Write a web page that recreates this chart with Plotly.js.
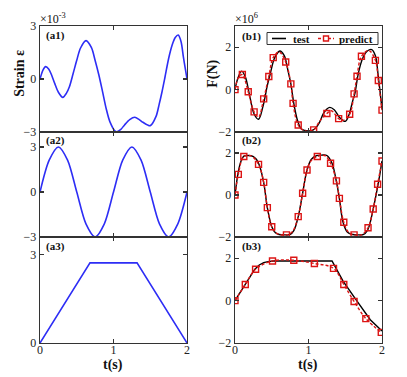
<!DOCTYPE html>
<html>
<head>
<meta charset="utf-8">
<script src="https://cdn.plot.ly/plotly-3.0.1.min.js"></script>
<style>body{margin:0;background:#fff;}</style>
</head>
<body>
<div id="chart" style="width:407px;height:377px;"></div>
<script>
// strain inputs (x10^-3)
var a1T = [0, 0.04, 0.077, 0.12, 0.16, 0.2, 0.25, 0.31, 0.36, 0.4, 0.45, 0.5, 0.55, 0.626, 0.7, 0.75, 0.8, 0.85, 0.9, 0.95, 1.03, 1.1, 1.15, 1.22, 1.29, 1.35, 1.4, 1.5, 1.58, 1.62, 1.66, 1.7, 1.75, 1.8, 1.84, 1.88, 1.92, 1.95, 1.98, 2.0];
var a1E = [0, 0.5, 0.7, 0.55, 0.2, -0.25, -0.75, -1.04, -0.8, -0.44, 0.3, 1.06, 1.74, 2.17, 1.77, 1.05, 0.24, -0.7, -1.67, -2.41, -2.98, -2.85, -2.6, -2.3, -2.17, -2.3, -2.45, -2.64, -2.1, -1.45, -0.72, 0.1, 1.16, 1.95, 2.35, 2.49, 2.1, 1.26, 0.5, 0];

var a2T = [0, 0.125, 0.25, 0.375, 0.5, 0.625, 0.75, 0.875, 1, 1.125, 1.25, 1.375, 1.5, 1.625, 1.75, 1.875, 2];
var a2E = [0, 2.12, 3, 2.12, 0, -2.12, -3, -2.12, 0, 2.12, 3, 2.12, 0, -2.12, -3, -2.12, 0];

var a3T = [0, 0.68, 1.32, 2];
var a3E = [0, 2.72, 2.72, 0];

// force (x10^6 N) - test
var b1T = [0, 0.04, 0.09, 0.14, 0.2, 0.26, 0.32, 0.38, 0.44, 0.48, 0.54, 0.61, 0.67, 0.72, 0.76, 0.8, 0.85, 0.9, 0.95, 1.0, 1.05, 1.1, 1.15, 1.2, 1.25, 1.29, 1.35, 1.42, 1.5, 1.55, 1.6, 1.63, 1.68, 1.74, 1.8, 1.86, 1.91, 1.95, 2.0];
var b1F = [0, 0.55, 0.87, 0.6, -0.3, -1.15, -1.4, -0.8, 0.2, 0.75, 1.5, 1.82, 1.6, 0.9, 0.27, -0.65, -1.45, -1.85, -1.93, -1.95, -1.93, -1.8, -1.55, -1.15, -0.92, -0.84, -0.95, -1.3, -1.5, -1.2, -0.55, -0.2, 0.8, 1.5, 1.82, 1.89, 1.6, 0.6, -0.92];

var b2T = [0, 0.045, 0.08, 0.12, 0.18, 0.25, 0.29, 0.33, 0.39, 0.44, 0.5, 0.55, 0.6, 0.67, 0.75, 0.8, 0.86, 0.92, 0.98, 1.04, 1.11, 1.18, 1.25, 1.32, 1.38, 1.42, 1.47, 1.53, 1.6, 1.68, 1.75, 1.8, 1.83, 1.88, 1.95, 2.0];
var b2F = [0, 1.11, 1.6, 1.85, 1.88, 1.83, 1.7, 1.43, 0.6, -0.6, -1.51, -1.8, -1.88, -1.9, -1.88, -1.7, -1.03, 0.08, 1.19, 1.7, 1.87, 1.9, 1.88, 1.51, 0.63, -0.16, -1.3, -1.78, -1.88, -1.9, -1.88, -1.7, -1.43, -0.67, 0.56, 1.62];

var b3T = [0, 0.14, 0.27, 0.33, 0.39, 0.45, 0.52, 1.32, 1.47, 1.66, 1.84, 2.0];
var b3F = [0, 0.76, 1.48, 1.68, 1.79, 1.84, 1.87, 1.87, 0.92, -0.03, -0.9, -1.43];

// force - predict (dashed line and square markers)
var p1T = [0, 0.05, 0.10, 0.14, 0.18, 0.26, 0.32, 0.39, 0.46, 0.52, 0.6, 0.69, 0.76, 0.79, 0.86, 0.95, 1.07, 1.15, 1.25, 1.31, 1.41, 1.47, 1.56, 1.62, 1.66, 1.72, 1.82, 1.91, 1.95, 2.0];
var p1F = [0, 0.6, 0.71, 0.4, -0.10, -1.05, -1.3, -0.44, 0.62, 1.51, 1.78, 1.30, 0.27, -0.65, -1.67, -1.95, -1.90, -1.5, -1.13, -1.0, -1.37, -1.45, -1.16, -0.2, 0.63, 1.57, 1.85, 1.38, 0.43, -0.97];
var m1T = [0, 0.10, 0.18, 0.26, 0.39, 0.46, 0.52, 0.69, 0.76, 0.79, 0.86, 1.07, 1.25, 1.41, 1.56, 1.62, 1.66, 1.72, 1.91, 1.95, 2.0];
var m1F = [0, 0.71, -0.10, -1.05, -0.44, 0.62, 1.51, 1.30, 0.27, -0.65, -1.67, -1.90, -1.13, -1.37, -1.16, -0.2, 0.63, 1.57, 1.38, 0.43, -0.97];

var p2T = [0, 0.045, 0.12, 0.22, 0.32, 0.39, 0.44, 0.50, 0.58, 0.70, 0.78, 0.86, 0.92, 0.98, 1.04, 1.12, 1.22, 1.30, 1.38, 1.42, 1.48, 1.55, 1.62, 1.72, 1.81, 1.88, 1.94, 2.0];
var p2F = [0, 0.98, 1.83, 1.86, 1.46, 0.6, -0.6, -1.51, -1.85, -1.9, -1.75, -1.03, 0.08, 1.19, 1.65, 1.83, 1.88, 1.51, 0.67, -0.16, -1.3, -1.8, -1.9, -1.9, -1.56, -0.67, 0.51, 1.62];
var m2T = [0, 0.045, 0.12, 0.32, 0.39, 0.44, 0.50, 0.70, 0.86, 0.92, 0.98, 1.12, 1.30, 1.38, 1.42, 1.48, 1.62, 1.81, 1.88, 1.94, 2.0];
var m2F = [0, 0.98, 1.83, 1.46, 0.6, -0.6, -1.51, -1.9, -1.03, 0.08, 1.19, 1.83, 1.51, 0.67, -0.16, -1.3, -1.9, -1.56, -0.67, 0.51, 1.62];

var m3T = [0, 0.14, 0.28, 0.51, 0.80, 1.08, 1.34, 1.48, 1.62, 1.78, 1.99];
var m3F = [0, 0.76, 1.48, 1.87, 1.90, 1.75, 1.52, 0.76, -0.04, -0.85, -1.5];

var legendNames = ['test', 'predict'];

var serif = '"Liberation Serif", "Times New Roman", serif';
var blue = 'rgb(45,45,245)';
var red = 'rgb(220,20,20)';

function strain(x, y, n, shape) {
  return {x: x, y: y, xaxis: 'x' + n, yaxis: 'y' + n, type: 'scatter', mode: 'lines',
    line: {color: blue, width: 1.6, shape: shape, smoothing: 0.8}};
}
function test(x, y, n, shape) {
  return {x: x, y: y, xaxis: 'x' + n, yaxis: 'y' + n, type: 'scatter', mode: 'lines',
    line: {color: 'black', width: 1.4, shape: shape}};
}
function predLine(x, y, n, shape) {
  return {x: x, y: y, xaxis: 'x' + n, yaxis: 'y' + n, type: 'scatter', mode: 'lines',
    line: {color: red, width: 1.4, dash: '3px,2px', shape: shape}};
}
function predMarks(x, y, n) {
  return {x: x, y: y, xaxis: 'x' + n, yaxis: 'y' + n, type: 'scatter', mode: 'markers',
    marker: {symbol: 'square-open', size: 6, color: red, line: {width: 1.4}}};
}

var data = [
  strain(a1T, a1E, '', 'spline'), strain(a2T, a2E, 3, 'spline'), strain(a3T, a3E, 5, 'linear'),
  test(b1T, b1F, 2, 'spline'), predLine(p1T, p1F, 2, 'spline'), predMarks(m1T, m1F, 2),
  test(b2T, b2F, 4, 'spline'), predLine(p2T, p2F, 4, 'spline'), predMarks(m2T, m2F, 4),
  test(b3T, b3F, 6, 'linear'), predLine(m3T, m3F, 6, 'spline'), predMarks(m3T, m3F, 6)
];

function ax(extra) {
  var a = {showline: true, mirror: 'ticks', ticks: 'inside', ticklen: 4, tickwidth: 1.2,
    linecolor: '#333', linewidth: 1.3, tickcolor: '#333', showgrid: false, zeroline: false,
    tickfont: {family: serif, size: 12, color: '#222'}};
  for (var k in extra) a[k] = extra[k];
  return a;
}
function xax(extra) {
  extra.ticklabelstandoff = -5;
  return ax(extra);
}

var colL = [0.0983, 0.4595], colR = [0.5774, 0.9386];
var row1 = [0.6499, 0.9310], row2 = [0.3714, 0.6499], row3 = [0.0902, 0.3714];

// pixel -> paper helpers for the hand-drawn legend
function px(v) { return v / 407; }
function py(v) { return 1 - v / 377; }

var ann = [
  {text: '<b>Strain \u03b5</b>', x: 0.046, y: 0.806, textangle: -90, size: 14},
  {text: '<b>F(N)</b>', x: 0.523, y: 0.804, textangle: -90, size: 14},
  {text: '<b>t(s)</b>', x: 0.278, y: py(365), size: 14},
  {text: '<b>t(s)</b>', x: 0.757, y: py(365), size: 14},
  {text: '\u00d710<sup>-3</sup>', x: 0.096, y: 0.952, xanchor: 'left', size: 12},
  {text: '\u00d710<sup>6</sup>', x: 0.575, y: 0.952, xanchor: 'left', size: 12},
  {text: '<b>(a1)</b>', x: 0.1106, y: 0.907, xanchor: 'left', size: 11},
  {text: '<b>(a2)</b>', x: 0.1106, y: 0.627, xanchor: 'left', size: 11},
  {text: '<b>(a3)</b>', x: 0.1106, y: 0.347, xanchor: 'left', size: 11},
  {text: '<b>(b1)</b>', x: 0.592, y: 0.903, xanchor: 'left', size: 11},
  {text: '<b>(b2)</b>', x: 0.592, y: 0.627, xanchor: 'left', size: 11},
  {text: '<b>(b3)</b>', x: 0.592, y: 0.346, xanchor: 'left', size: 11},
  {text: '<b>' + legendNames[0] + '</b>', x: px(301.5), y: py(38.5), size: 11},
  {text: '<b>' + legendNames[1] + '</b>', x: px(356), y: py(38.5), size: 11}
].map(function (a) {
  return {text: a.text, x: a.x, y: a.y, xref: 'paper', yref: 'paper', showarrow: false,
    xanchor: a.xanchor || 'center', yanchor: 'middle', textangle: a.textangle || 0,
    borderpad: 0,
    font: {family: serif, size: a.size, color: '#111'}};
});

var shapes = [
  {type: 'rect', x0: px(267), x1: px(378), y0: py(32.5), y1: py(44.5), line: {color: '#333', width: 1}, fillcolor: 'white'},
  {type: 'line', x0: px(272), x1: px(286), y0: py(38.5), y1: py(38.5), line: {color: 'black', width: 1.6}},
  {type: 'line', x0: px(318), x1: px(334), y0: py(38.5), y1: py(38.5), line: {color: red, width: 1.4, dash: '3px,2px'}},
  {type: 'rect', x0: px(323.5), x1: px(328.5), y0: py(36), y1: py(41), line: {color: red, width: 1.4}, fillcolor: 'white'}
].map(function (s) { s.xref = 'paper'; s.yref = 'paper'; s.layer = 'above'; return s; });

var layout = {
  width: 407, height: 377,
  margin: {l: 0, r: 0, t: 0, b: 0},
  paper_bgcolor: 'white', plot_bgcolor: 'white',
  font: {family: serif, color: '#222'},
  showlegend: false,
  xaxis:  xax({domain: colL, anchor: 'y',  range: [0, 2], tickvals: [0, 1, 2], showticklabels: false}),
  yaxis:  ax({domain: row1, anchor: 'x',  range: [-3, 3], tickvals: [-3, 0, 3]}),
  xaxis2: xax({domain: colR, anchor: 'y2', range: [0, 2], tickvals: [0, 1, 2], showticklabels: false}),
  yaxis2: ax({domain: row1, anchor: 'x2', range: [-2, 3], tickvals: [-2, 0, 2]}),
  xaxis3: xax({domain: colL, anchor: 'y3', range: [0, 2], tickvals: [0, 1, 2], showticklabels: false}),
  yaxis3: ax({domain: row2, anchor: 'x3', range: [-3, 4], tickvals: [-3, 0, 3]}),
  xaxis4: xax({domain: colR, anchor: 'y4', range: [0, 2], tickvals: [0, 1, 2], showticklabels: false}),
  yaxis4: ax({domain: row2, anchor: 'x4', range: [-2, 3], tickvals: [-2, 0, 2]}),
  xaxis5: xax({domain: colL, anchor: 'y5', range: [0, 2], tickvals: [0, 1, 2]}),
  yaxis5: ax({domain: row3, anchor: 'x5', range: [0, 3.6], tickvals: [0, 3]}),
  xaxis6: xax({domain: colR, anchor: 'y6', range: [0, 2], tickvals: [0, 1, 2]}),
  yaxis6: ax({domain: row3, anchor: 'x6', range: [-2, 3], tickvals: [-2, 0, 2]}),
  annotations: ann,
  shapes: shapes
};

Plotly.newPlot('chart', data, layout, {displayModeBar: false, staticPlot: true});
</script>
</body>
</html>
